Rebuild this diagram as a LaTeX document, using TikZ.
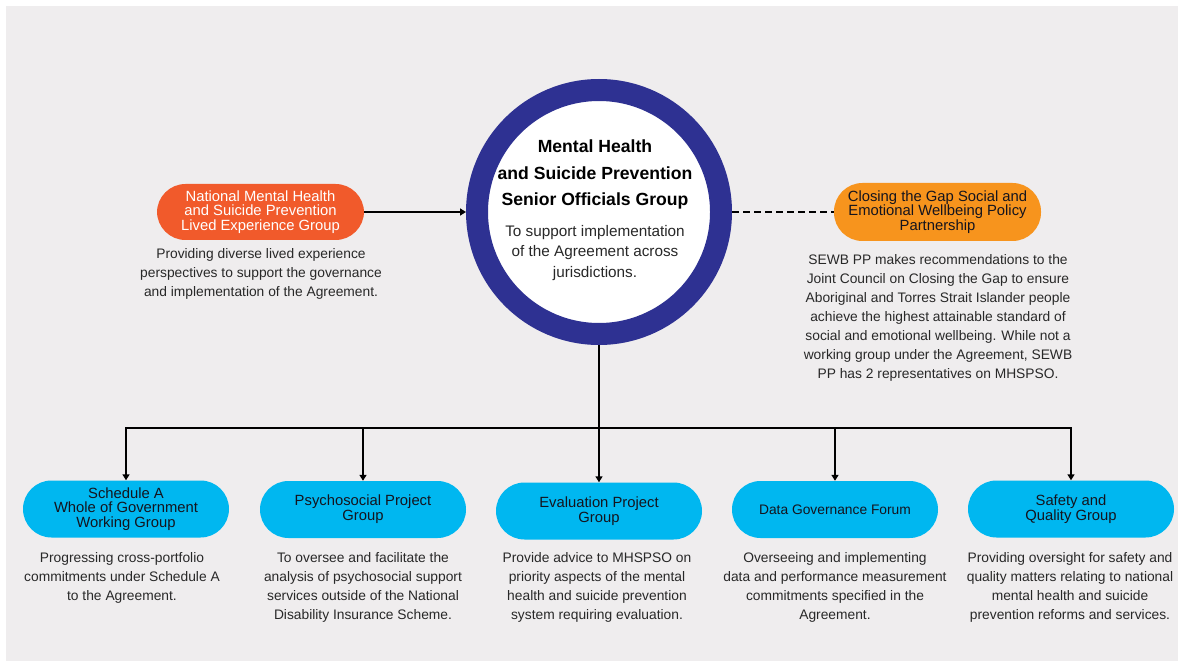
\documentclass[tikz,border=0pt]{standalone}
\usepackage{fontspec}
\setmainfont{Liberation Sans}
\usetikzlibrary{arrows.meta}
\definecolor{bgcol}{RGB}{239,237,238}
\definecolor{ringblue}{RGB}{46,49,146}
\definecolor{orangered}{RGB}{241,90,43}
\definecolor{orangecol}{RGB}{247,148,29}
\definecolor{cyancol}{RGB}{0,183,240}
\definecolor{desccol}{RGB}{40,40,40}
\definecolor{darktext}{RGB}{20,20,30}
\tikzset{
  pill/.style={rectangle, rounded corners=28.5pt, minimum width=206pt, minimum height=57pt,
    inner sep=0pt, align=center, text=darktext, font=\fontsize{14.8}{14.8}\selectfont},
  desc/.style={inner sep=0pt, align=center, text=desccol, font=\fontsize{13.8}{19}\selectfont},
  conn/.style={line width=1.6pt, draw=black},
  arr/.style={conn, -{Triangle[length=6pt,width=7pt]}},
}
\begin{document}
\begin{tikzpicture}[x=1pt,y=-1pt]
\useasboundingbox (0,0) rectangle (1178,663);
\fill[bgcol] (6,6) rectangle (1178,661);

% central circle
\node[circle, minimum size=244pt, draw=ringblue, line width=22pt, fill=white, inner sep=0pt] (c) at (599,212) {};
\node[align=center, inner sep=0pt, font=\bfseries\fontsize{17.6}{26.5}\selectfont, text=black] (ctitle) at (595,174.5)
  {Mental Health\\and Suicide Prevention\\Senior Officials Group};
\node[align=center, inner sep=0pt, font=\fontsize{15.3}{20.8}\selectfont, text=desccol] (csub) at (595,253)
  {To support implementation\\of the Agreement across\\jurisdictions.};

% left pill
\node[pill, fill=orangered, text=white, minimum height=56pt, minimum width=207pt] (lp) at (260.5,212)
  {National Mental Health\\and Suicide Prevention\\Lived Experience Group};
\node[desc] (ld) at (261,273.5)
  {Providing diverse lived experience\\perspectives to support the governance\\and implementation of the Agreement.};

% right pill
\node[pill, fill=orangecol, minimum width=207pt, minimum height=58pt] (rp) at (937.5,212)
  {Closing the Gap Social and\\Emotional Wellbeing Policy\\Partnership};
\node[desc] (rd) at (938,318)
  {SEWB PP makes recommendations to the\\Joint Council on Closing the Gap to ensure\\Aboriginal and Torres Strait Islander people\\achieve the highest attainable standard of\\social and emotional wellbeing. While not a\\working group under the Agreement, SEWB\\PP has 2 representatives on MHSPSO.};

\draw[arr] (lp.east) -- (c.west);
\draw[conn, dash pattern=on 7pt off 4pt] (c.east) -- (rp.west);

% bottom pills
\node[pill, fill=cyancol] (p1) at (126,509) {Schedule A\\Whole of Government\\Working Group};
\node[pill, fill=cyancol] (p2) at (363,509.5) {Psychosocial Project\\Group};
\node[pill, fill=cyancol] (p3) at (599,511) {Evaluation Project\\Group};
\node[pill, fill=cyancol, font=\fontsize{13.8}{14.8}\selectfont] (p4) at (835,509.5) {Data Governance Forum};
\node[pill, fill=cyancol] (p5) at (1071,509) {Safety and\\Quality Group};

\node[desc] (d1) at (122,577.5) {Progressing cross-portfolio\\commitments under Schedule A\\to the Agreement.};
\node[desc] (d2) at (363,587) {To oversee and facilitate the\\analysis of psychosocial support\\services outside of the National\\Disability Insurance Scheme.};
\node[desc] (d3) at (597,587) {Provide advice to MHSPSO on\\priority aspects of the mental\\health and suicide prevention\\system requiring evaluation.};
\node[desc] (d4) at (835,587) {Overseeing and implementing\\data and performance measurement\\commitments specified in the\\Agreement.};
\node[desc] (d5) at (1070,587) {Providing oversight for safety and\\quality matters relating to national\\mental health and suicide\\prevention reforms and services.};

% bus
\coordinate (bus) at (599,428);
\draw[conn] (c.south) -- (bus);
\draw[arr] (bus) -| (p1.north);
\draw[arr] (bus) -| (p2.north);
\draw[arr] (bus) -- (p3.north);
\draw[arr] (bus) -| (p4.north);
\draw[arr] (bus) -| (p5.north);
\end{tikzpicture}
\end{document}
